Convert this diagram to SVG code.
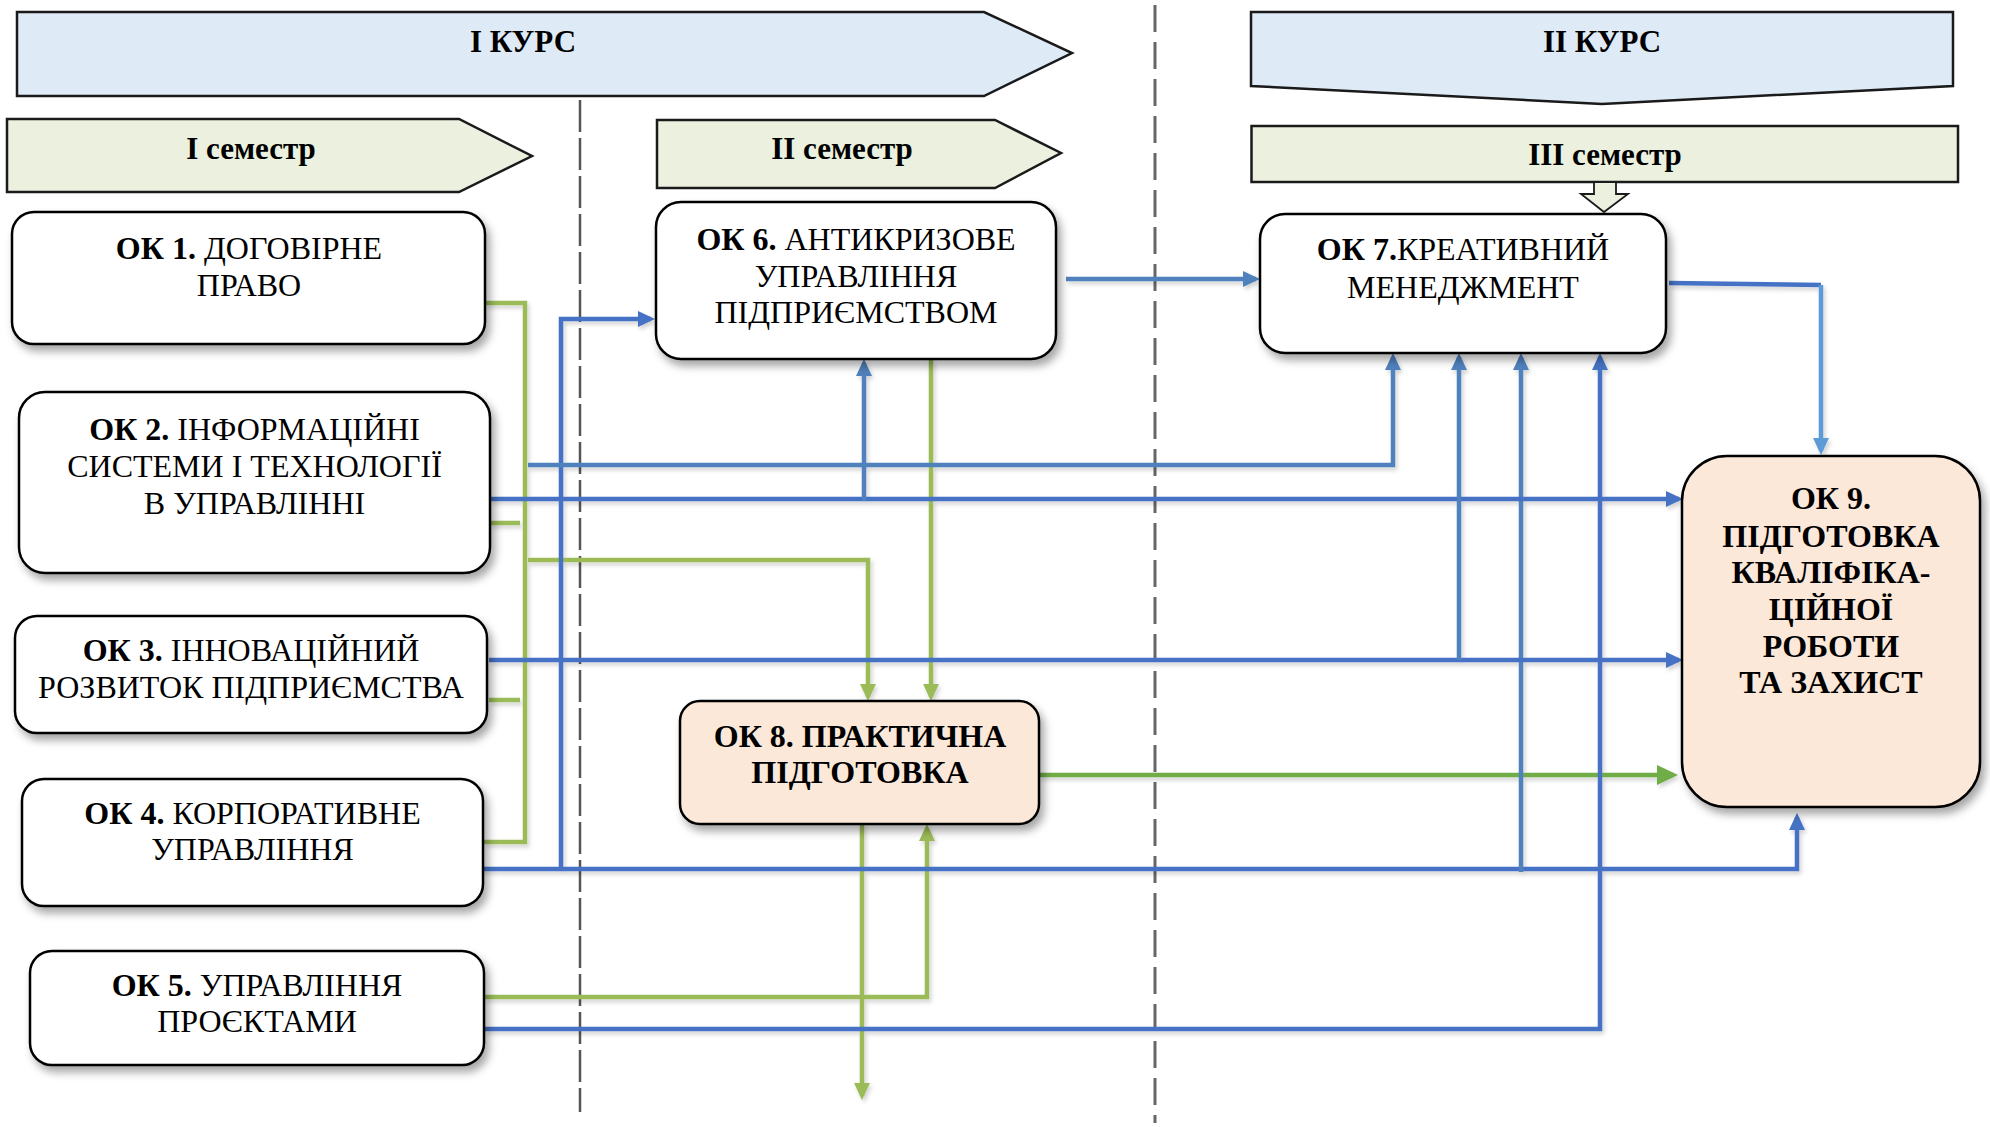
<svg xmlns="http://www.w3.org/2000/svg" width="1990" height="1127" viewBox="0 0 1990 1127">
<style>
text{font-family:"Liberation Serif","Times New Roman",serif;font-size:32px;fill:#000;text-anchor:middle}
text.h{font-size:31px;font-weight:bold}
.b{font-weight:bold}
.hdr{stroke:#1a1a1a;stroke-width:2.5}
.kurs{fill:#DEEAF6}
.sem{fill:#EBF1DE}
.box{fill:#fff;stroke:#000;stroke-width:2.5}
.pk{fill:#FCE8D9;stroke:#000;stroke-width:2.5}
.c{fill:none;stroke-width:4.5;stroke-linejoin:miter}
.bl{stroke:#4472C4}
.st{stroke:#4F81BD}
.lb{stroke:#5B9BD5}
.gr{stroke:#9BBB59}
.g2{stroke:#70AD47}
.dash1{stroke:#555;stroke-width:2.5;stroke-dasharray:32 6;fill:none}
.dash2{stroke:#666;stroke-width:3;stroke-dasharray:27 10;fill:none}
</style>
<defs>
<filter id="sh" x="-10%" y="-10%" width="125%" height="130%">
<feDropShadow dx="4" dy="6" stdDeviation="4" flood-color="#000" flood-opacity="0.35"/>
</filter>
<filter id="lsh" x="-5%" y="-50%" width="110%" height="200%">
<feDropShadow dx="2" dy="3" stdDeviation="2" flood-color="#000" flood-opacity="0.18"/>
</filter>
<marker id="aB" markerUnits="userSpaceOnUse" markerWidth="18" markerHeight="18" refX="13" refY="8" orient="auto"><path d="M0,0 L17,8 L0,16 z" fill="#4472C4"/></marker>
<marker id="aS" markerUnits="userSpaceOnUse" markerWidth="18" markerHeight="18" refX="13" refY="8" orient="auto"><path d="M0,0 L17,8 L0,16 z" fill="#4F81BD"/></marker>
<marker id="aL" markerUnits="userSpaceOnUse" markerWidth="18" markerHeight="18" refX="13" refY="8" orient="auto"><path d="M0,0 L17,8 L0,16 z" fill="#5B9BD5"/></marker>
<marker id="aG" markerUnits="userSpaceOnUse" markerWidth="18" markerHeight="18" refX="13" refY="8" orient="auto"><path d="M0,0 L17,8 L0,16 z" fill="#9BBB59"/></marker>
<marker id="aG2" markerUnits="userSpaceOnUse" markerWidth="22" markerHeight="22" refX="16" refY="10" orient="auto"><path d="M0,0 L21,10 L0,20 z" fill="#70AD47"/></marker>
</defs>

<g id="dividers">
<line class="dash1" x1="580" y1="100" x2="580" y2="1112"/>
<line class="dash2" x1="1155" y1="5" x2="1155" y2="1123"/>
</g>

<g id="kurs1">
<polygon class="hdr kurs" points="17,12 984,12 1072,53 984,96 17,96"/>
<text class="h" x="523" y="52">І КУРС</text>
</g>
<g id="kurs2">
<polygon class="hdr kurs" points="1251,12 1953,12 1953,86 1602,104 1251,86"/>
<text class="h" x="1602" y="52">ІІ КУРС</text>
</g>
<g id="sem1">
<polygon class="hdr sem" points="7,119 459,119 532,156 459,192 7,192"/>
<text class="h" x="251" y="159">І семестр</text>
</g>
<g id="sem2">
<polygon class="hdr sem" points="657,120 995,120 1061,153 995,188 657,188"/>
<text class="h" x="842" y="159">ІІ семестр</text>
</g>
<g id="sem3">
<rect class="hdr sem" x="1251.5" y="126" width="706.5" height="56"/>
<text class="h" x="1605" y="165">ІІІ семестр</text>
<polygon class="sem" stroke="#1a1a1a" stroke-width="1.8" points="1594,182 1616,182 1616,194 1628,194 1604,212 1581,194 1594,194"/>
</g>

<g id="connectors">
<g filter="url(#lsh)">
<path class="c gr" d="M485,303 H525 V842 H484"/>
<path class="c gr" d="M489,523 H520"/>
<path class="c gr" d="M489,700 H520"/>
<path class="c gr" d="M528,560 H868 V697" marker-end="url(#aG)"/>
<path class="c gr" d="M931,360 V697" marker-end="url(#aG)"/>
<path class="c gr" d="M484,997 H927 V828" marker-end="url(#aG)"/>
<path class="c gr" d="M862,824 V1096" marker-end="url(#aG)"/>
<path class="c g2" d="M1039,775 H1673" marker-end="url(#aG2)"/>
<path class="c bl" d="M481,869 H1797 V817" marker-end="url(#aB)"/>
<path class="c bl" d="M561,869 V319 H651" marker-end="url(#aB)"/>
<path class="c st" d="M1521,872 V357" marker-end="url(#aS)"/>
<path class="c bl" d="M489,499 H1679" marker-end="url(#aB)"/>
<path class="c st" d="M864,501 V363" marker-end="url(#aS)"/>
<path class="c st" d="M528,465 H1393 V357" marker-end="url(#aS)"/>
<path class="c bl" d="M489,660 H1679" marker-end="url(#aB)"/>
<path class="c st" d="M1459,660 V357" marker-end="url(#aS)"/>
<path class="c bl" d="M484,1029 H1600 V357" marker-end="url(#aB)"/>
<path class="c st" d="M1066,279 H1256" marker-end="url(#aS)"/>
<path class="c bl" d="M1669,283 L1821,285"/>
<path class="c lb" d="M1821,285 V451" marker-end="url(#aL)"/>
</g>
</g>

<g id="ok1">
<rect class="box" filter="url(#sh)" x="12" y="212" width="473" height="132" rx="22"/>
<text x="249" y="259"><tspan class="b">ОК 1.</tspan> ДОГОВІРНЕ</text>
<text x="249" y="296">ПРАВО</text>
</g>
<g id="ok2">
<rect class="box" filter="url(#sh)" x="19" y="392" width="471" height="181" rx="26"/>
<text x="254.5" y="440"><tspan class="b">ОК 2.</tspan> ІНФОРМАЦІЙНІ</text>
<text x="254.5" y="477">СИСТЕМИ І ТЕХНОЛОГІЇ</text>
<text x="254.5" y="514">В УПРАВЛІННІ</text>
</g>
<g id="ok3">
<rect class="box" filter="url(#sh)" x="15" y="616" width="472" height="117" rx="22"/>
<text x="251" y="661"><tspan class="b">ОК 3.</tspan> ІННОВАЦІЙНИЙ</text>
<text x="251" y="698">РОЗВИТОК ПІДПРИЄМСТВА</text>
</g>
<g id="ok4">
<rect class="box" filter="url(#sh)" x="22" y="779" width="461" height="127" rx="22"/>
<text x="252.5" y="824"><tspan class="b">ОК 4.</tspan> КОРПОРАТИВНЕ</text>
<text x="252.5" y="860">УПРАВЛІННЯ</text>
</g>
<g id="ok5">
<rect class="box" filter="url(#sh)" x="30" y="951" width="454" height="114" rx="22"/>
<text x="257" y="996"><tspan class="b">ОК 5.</tspan> УПРАВЛІННЯ</text>
<text x="257" y="1032">ПРОЄКТАМИ</text>
</g>
<g id="ok6">
<rect class="box" filter="url(#sh)" x="656" y="202" width="400" height="157" rx="25"/>
<text x="856" y="250"><tspan class="b">ОК 6.</tspan> АНТИКРИЗОВЕ</text>
<text x="856" y="287">УПРАВЛІННЯ</text>
<text x="856" y="323">ПІДПРИЄМСТВОМ</text>
</g>
<g id="ok7">
<rect class="box" filter="url(#sh)" x="1260" y="214" width="406" height="139" rx="25"/>
<text x="1463" y="260"><tspan class="b">ОК 7.</tspan>КРЕАТИВНИЙ</text>
<text x="1463" y="298">МЕНЕДЖМЕНТ</text>
</g>
<g id="ok8">
<rect class="pk" filter="url(#sh)" x="680" y="701" width="359" height="123" rx="20"/>
<text class="b" x="860" y="747">ОК 8. ПРАКТИЧНА</text>
<text class="b" x="860" y="783">ПІДГОТОВКА</text>
</g>
<g id="ok9">
<rect class="pk" filter="url(#sh)" x="1682" y="456" width="298" height="351" rx="45"/>
<text class="b" x="1831" y="509">ОК 9.</text>
<text class="b" x="1831" y="547">ПІДГОТОВКА</text>
<text class="b" x="1831" y="583">КВАЛІФІКА-</text>
<text class="b" x="1831" y="620">ЦІЙНОЇ</text>
<text class="b" x="1831" y="657">РОБОТИ</text>
<text class="b" x="1831" y="693">ТА ЗАХИСТ</text>
</g>
</svg>
